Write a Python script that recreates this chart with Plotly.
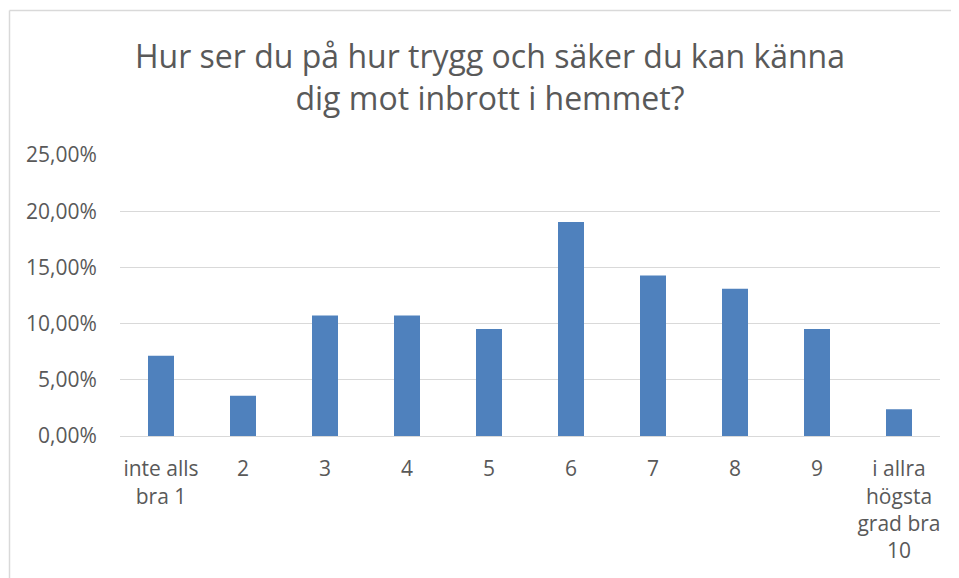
import plotly.graph_objects as go

categories = ["inte alls<br>bra 1", "2", "3", "4", "5", "6", "7", "8", "9",
              "i allra<br>högsta<br>grad bra<br>10"]
values = [0.0714, 0.0357, 0.1071, 0.1071, 0.0952, 0.1905, 0.1429, 0.1310, 0.0952, 0.0238]
y_ticks = [0, 0.05, 0.10, 0.15, 0.20, 0.25]
y_tick_labels = ["0,00%", "5,00%", "10,00%", "15,00%", "20,00%", "25,00%"]
title_text = "Hur ser du på hur trygg och säker du kan känna<br>dig mot inbrott i hemmet?"

FONT = "Open Sans"
GREY = "#595959"
OFF = 8  # page body margin
W, H = 951, 570
L, R, T, B = 120 - OFF, 940 - OFF, 155 - OFF, 436 - OFF
PW, PH = R - L, B - T

bx = (9.5 - OFF - L) / PW
by = (B - (10.5 - OFF)) / PH
border = dict(color="#d9d9d9", width=1.5)

fig = go.Figure(go.Bar(x=categories, y=values, marker=dict(color="#4f81bd", line=dict(width=0))))

fig.update_layout(
    width=W, height=H,
    margin=dict(l=L, r=W - R, t=T, b=H - B),
    paper_bgcolor="white", plot_bgcolor="white",
    bargap=0.683,
    showlegend=False,
    font=dict(family=FONT, color=GREY, size=21),
    title=dict(text=title_text, x=(490 - OFF) / W, xref="container", xanchor="center",
               y=1 - 60 / H, yref="container", yanchor="top",
               font=dict(family=FONT, size=32, color=GREY)),
    xaxis=dict(showgrid=False, showline=True, linecolor="#d9d9d9", linewidth=1,
               ticks="outside", ticklen=14, tickcolor="rgba(0,0,0,0)",
               tickfont=dict(family=FONT, size=21, color=GREY), tickangle=0),
    yaxis=dict(range=[0, 0.25], tickvals=y_ticks, ticktext=y_tick_labels,
               showgrid=True, gridcolor="#d9d9d9", gridwidth=1, zeroline=False,
               showline=False, ticks="outside", ticklen=18, tickcolor="rgba(0,0,0,0)",
               tickfont=dict(family=FONT, size=21, color=GREY)),
    shapes=[
        dict(type="line", xref="paper", yref="paper", x0=bx, x1=1.3, y0=by, y1=by,
             line=border, layer="below"),
        dict(type="line", xref="paper", yref="paper", x0=bx, x1=bx, y0=by, y1=-0.8,
             line=border, layer="below"),
    ],
)

fig.write_html("out.html")
